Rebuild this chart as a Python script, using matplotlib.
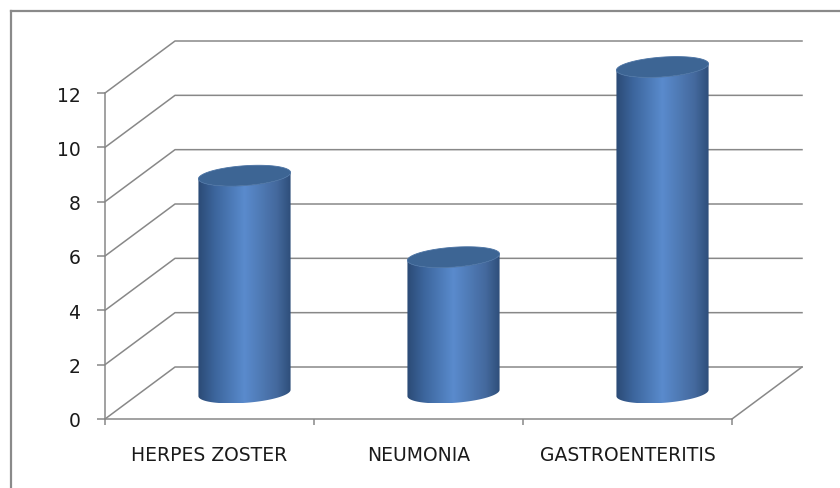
import matplotlib
matplotlib.use('Agg')
import matplotlib.pyplot as plt
from matplotlib.colors import LinearSegmentedColormap
from matplotlib.patches import Polygon
from matplotlib.lines import Line2D
import numpy as np

categories = ['HERPES ZOSTER', 'NEUMONIA', 'GASTROENTERITIS']
values = [8, 5, 12]
y_ticks = [0, 2, 4, 6, 8, 10, 12]

grid_color = '#888888'
text_color = '#1a1a1a'

# oblique depth offset of the back wall, in data units
depth_dx = 0.335
depth_dy = 1.914

body_cmap = LinearSegmentedColormap.from_list('cyl', [
    (0.0, '#2b4a75'), (0.18, '#3c659c'), (0.5, '#5a8bcd'),
    (0.85, '#44699d'), (1.0, '#2e4e7a')])


def proj(x, y, d):
    return x + depth_dx * d, y + depth_dy * d


def cylinder(fig, ax, xc, h, rx=0.21, rd=0.2):
    t0 = np.arctan2(depth_dx * rd, rx)
    t_front = np.linspace(t0 + np.pi, t0 + 2 * np.pi, 80)
    t_all = np.linspace(0, 2 * np.pi, 160)

    def ring(t, y):
        x = xc + rx * np.cos(t)
        d = 0.5 + rd * np.sin(t)
        return proj(x, y, d)

    bx, by = ring(t_front, 0)
    tx, ty = ring(t_front[::-1], h)
    body = Polygon(np.column_stack([np.r_[bx, tx], np.r_[by, ty]]),
                   closed=True, facecolor='none', edgecolor='none',
                   zorder=3, clip_on=False)
    ax.add_patch(body)
    grad = np.linspace(0, 1, 256).reshape(1, -1)
    im = ax.imshow(grad, cmap=body_cmap, aspect='auto', origin='lower',
                   extent=[bx.min(), bx.max(), by.min(), ty.max()],
                   zorder=3, interpolation='bilinear')
    im.set_clip_box(fig.bbox)
    im.set_clip_path(body)

    ex, ey = ring(t_all, h)
    ax.add_patch(Polygon(np.column_stack([ex, ey]), closed=True,
                         facecolor='#3d6594', edgecolor='#4a72a3',
                         linewidth=0.6, zorder=4, clip_on=False))


fig = plt.figure(figsize=(8.4, 4.89), dpi=100)
ax = fig.add_axes([105 / 840, 69 / 489, 627 / 840, 326 / 489])

n = len(categories)
ax.set_xlim(-0.5, n - 0.5)
ax.set_ylim(0, 12)

# back wall gridlines and side diagonals
for v in y_ticks:
    x0, y0 = proj(-0.5, v, 0)
    x1, y1 = proj(-0.5, v, 1)
    x2, y2 = proj(n - 0.5, v, 1)
    ax.plot([x0, x1, x2], [y0, y1, y2], color=grid_color, lw=1.1,
            clip_on=False, zorder=1)
# right edge of the floor
xa, ya = proj(n - 0.5, 0, 0)
xb, yb = proj(n - 0.5, 0, 1)
ax.plot([xa, xb], [ya, yb], color=grid_color, lw=1.1, clip_on=False, zorder=1)

for i, v in enumerate(values):
    cylinder(fig, ax, i, v)

ax.set_xlim(-0.5, n - 0.5)
ax.set_ylim(0, 12)

for side in ['top', 'right']:
    ax.spines[side].set_visible(False)
for side in ['left', 'bottom']:
    ax.spines[side].set_color(grid_color)
    ax.spines[side].set_linewidth(1.1)

ax.set_yticks(y_ticks)
ax.tick_params(axis='y', length=5.8, width=1.1, color=grid_color, pad=12,
               labelsize=13.5, labelcolor=text_color)

ax.set_xticks(np.arange(n + 1) - 0.5)
ax.set_xticklabels([])
ax.set_xticks(np.arange(n), minor=True)
ax.set_xticklabels(categories, minor=True)
ax.tick_params(axis='x', which='major', length=4.3, width=1.1, color=grid_color)
ax.tick_params(axis='x', which='minor', length=0, pad=19,
               labelsize=13.5, labelcolor=text_color)

# outer chart border
fig.add_artist(Line2D([11 / 840, 11 / 840], [0, 1 - 12 / 489],
                      transform=fig.transFigure, color='#8a8a8a', lw=1.6))
fig.add_artist(Line2D([11 / 840, 1], [1 - 12 / 489, 1 - 12 / 489],
                      transform=fig.transFigure, color='#8a8a8a', lw=1.6))

fig.savefig('out.png', dpi=100, facecolor='white')
